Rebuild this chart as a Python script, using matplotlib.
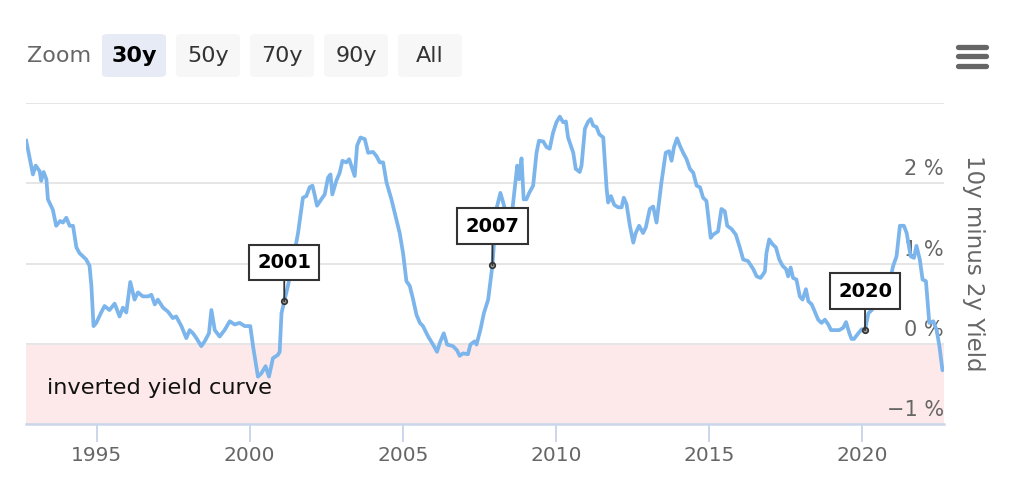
import matplotlib.pyplot as plt
import numpy as np
from matplotlib.patches import FancyBboxPatch
from matplotlib.lines import Line2D
from matplotlib import transforms

# 10y minus 2y spread (%)
years = [
    1992.70, 1992.92, 1993.01, 1993.14, 1993.19, 1993.27, 1993.36, 1993.41, 1993.57, 1993.68,
    1993.81, 1993.90, 1994.01, 1994.12, 1994.23, 1994.34, 1994.44, 1994.55, 1994.66, 1994.77,
    1994.83, 1994.90, 1994.99, 1995.15, 1995.26, 1995.42, 1995.59, 1995.75, 1995.86, 1995.97,
    1996.10, 1996.24, 1996.35, 1996.51, 1996.68, 1996.79, 1996.90, 1997.00, 1997.17, 1997.33,
    1997.49, 1997.60, 1997.77, 1997.93, 1998.04, 1998.15, 1998.26, 1998.42, 1998.53, 1998.67,
    1998.75, 1998.86, 1999.02, 1999.18, 1999.35, 1999.51, 1999.67, 1999.84, 2000.02, 2000.11,
    2000.27, 2000.38, 2000.52, 2000.63, 2000.76, 2000.92, 2000.98, 2001.04, 2001.13, 2001.25,
    2001.42, 2001.58, 2001.74, 2001.85, 2001.96, 2002.05, 2002.12, 2002.20, 2002.34, 2002.45,
    2002.56, 2002.64, 2002.70, 2002.83, 2002.94, 2003.03, 2003.16, 2003.25, 2003.32, 2003.43,
    2003.51, 2003.62, 2003.76, 2003.87, 2004.03, 2004.14, 2004.25, 2004.36, 2004.47, 2004.63,
    2004.79, 2004.90, 2005.01, 2005.12, 2005.23, 2005.34, 2005.45, 2005.56, 2005.66, 2005.83,
    2005.99, 2006.12, 2006.21, 2006.34, 2006.45, 2006.64, 2006.77, 2006.86, 2006.97, 2007.13,
    2007.21, 2007.35, 2007.41, 2007.54, 2007.65, 2007.79, 2007.93, 2008.06, 2008.19, 2008.28,
    2008.43, 2008.59, 2008.74, 2008.80, 2008.88, 2008.95, 2009.04, 2009.13, 2009.26, 2009.37,
    2009.45, 2009.59, 2009.70, 2009.80, 2009.91, 2010.02, 2010.13, 2010.24, 2010.33, 2010.40,
    2010.57, 2010.65, 2010.78, 2010.84, 2010.95, 2011.06, 2011.14, 2011.22, 2011.33, 2011.42,
    2011.55, 2011.66, 2011.71, 2011.80, 2011.91, 2012.04, 2012.15, 2012.22, 2012.31, 2012.42,
    2012.53, 2012.61, 2012.72, 2012.85, 2012.94, 2013.07, 2013.18, 2013.29, 2013.45, 2013.59,
    2013.70, 2013.78, 2013.86, 2013.96, 2014.05, 2014.16, 2014.27, 2014.38, 2014.49, 2014.60,
    2014.71, 2014.81, 2014.92, 2015.06, 2015.14, 2015.30, 2015.41, 2015.52, 2015.60, 2015.74,
    2015.88, 2016.01, 2016.12, 2016.28, 2016.45, 2016.56, 2016.69, 2016.83, 2016.88, 2016.97,
    2017.08, 2017.19, 2017.30, 2017.41, 2017.52, 2017.59, 2017.67, 2017.75, 2017.86, 2017.97,
    2018.06, 2018.17, 2018.25, 2018.36, 2018.46, 2018.57, 2018.68, 2018.79, 2018.90, 2018.99,
    2019.12, 2019.26, 2019.39, 2019.48, 2019.59, 2019.66, 2019.74, 2019.88, 2019.99, 2020.10,
    2020.21, 2020.32, 2020.52, 2020.75, 2020.92, 2021.02, 2021.13, 2021.24, 2021.37, 2021.46,
    2021.59, 2021.70, 2021.78, 2021.89, 2021.98, 2022.09, 2022.20, 2022.33, 2022.44, 2022.53,
    2022.63, 2022.71,
]
spread = [
    2.53, 2.11, 2.22, 2.15, 2.03, 2.14, 2.05, 1.80, 1.67, 1.47,
    1.53, 1.51, 1.57, 1.47, 1.47, 1.20, 1.13, 1.09, 1.05, 0.97,
    0.72, 0.22, 0.26, 0.39, 0.47, 0.42, 0.50, 0.34, 0.45, 0.39,
    0.77, 0.55, 0.64, 0.59, 0.59, 0.61, 0.49, 0.55, 0.45, 0.40,
    0.32, 0.34, 0.22, 0.07, 0.17, 0.13, 0.07, -0.03, 0.03, 0.13,
    0.42, 0.17, 0.09, 0.17, 0.28, 0.24, 0.26, 0.22, 0.22, -0.03,
    -0.41, -0.37, -0.28, -0.41, -0.18, -0.14, -0.10, 0.38, 0.53, 0.72,
    1.05, 1.38, 1.82, 1.84, 1.95, 1.97, 1.86, 1.72, 1.80, 1.86,
    2.07, 2.11, 1.86, 2.03, 2.13, 2.28, 2.26, 2.30, 2.22, 2.09,
    2.47, 2.57, 2.55, 2.38, 2.39, 2.34, 2.26, 2.26, 2.01, 1.80,
    1.55, 1.38, 1.13, 0.78, 0.72, 0.55, 0.36, 0.26, 0.22, 0.09,
    -0.01, -0.10, 0.01, 0.13, -0.01, -0.03, -0.08, -0.15, -0.12, -0.13,
    -0.01, 0.03, -0.01, 0.18, 0.38, 0.55, 0.98, 1.68, 1.88, 1.76,
    1.55, 1.70, 2.22, 2.05, 2.31, 1.80, 1.80, 1.88, 1.97, 2.38,
    2.53, 2.52, 2.45, 2.43, 2.63, 2.76, 2.83, 2.76, 2.77, 2.57,
    2.38, 2.18, 2.14, 2.22, 2.68, 2.77, 2.80, 2.72, 2.70, 2.61,
    2.57, 1.93, 1.76, 1.84, 1.73, 1.70, 1.70, 1.82, 1.74, 1.47,
    1.26, 1.38, 1.47, 1.38, 1.45, 1.68, 1.71, 1.51, 2.01, 2.38,
    2.40, 2.28, 2.45, 2.56, 2.47, 2.38, 2.30, 2.18, 2.13, 1.97,
    1.95, 1.82, 1.78, 1.32, 1.36, 1.40, 1.68, 1.65, 1.47, 1.43,
    1.36, 1.20, 1.05, 1.03, 0.93, 0.84, 0.82, 0.90, 1.13, 1.30,
    1.24, 1.20, 1.05, 0.97, 0.93, 0.84, 0.95, 0.82, 0.80, 0.59,
    0.55, 0.68, 0.53, 0.49, 0.40, 0.30, 0.26, 0.30, 0.24, 0.17,
    0.17, 0.17, 0.20, 0.27, 0.13, 0.06, 0.06, 0.13, 0.18, 0.17,
    0.38, 0.42, 0.55, 0.60, 0.80, 0.97, 1.09, 1.47, 1.47, 1.38,
    1.09, 1.07, 1.22, 1.05, 0.80, 0.78, 0.26, 0.28, 0.17, -0.03,
    -0.33, -0.30,
]

recession_labels = ["2001", "2007", "2020"]
recession_years = [2001.13, 2007.93, 2020.10]

x_ticks = [1995, 2000, 2005, 2010, 2015, 2020]
y_ticks = [-1, 0, 1, 2, 3]
y_labels = ["\u22121 %", "0 %", "1 %", "2 %"]

zoom_buttons = ["30y", "50y", "70y", "90y", "All"]

W, H = 1018, 484
fig = plt.figure(figsize=(W / 100, H / 100), dpi=100)
ax = fig.add_axes([26 / W, 60 / H, 918 / W, 321 / H])

# inverted yield curve band
ax.axhspan(-1, 0, color="#fde9e9", zorder=0, lw=0)
ax.text(1993.38, -0.55, "inverted yield curve", fontsize=16.2, color="#111111",
        va="center", ha="left", zorder=1)

ax.plot(years, spread, color="#7cb5ec", lw=2.7, zorder=3, solid_joinstyle="round")

ax.set_xlim(1992.694, 2022.68)
ax.set_ylim(-1, 3)

ax.set_yticks(y_ticks)
ax.grid(axis="y", color="#e6e6e6", lw=1.4, zorder=1)
ax.tick_params(axis="y", length=0, labelleft=False, labelright=False)
ax.set_axisbelow(True)

ax.set_xticks(x_ticks)
ax.set_xticklabels([str(t) for t in x_ticks])
ax.tick_params(axis="x", direction="out", length=13, width=1.4, color="#ccd6eb",
               labelsize=14.5, labelcolor="#666666", pad=3)

for s in ["top", "left", "right"]:
    ax.spines[s].set_visible(False)
ax.spines["bottom"].set_color("#ccd6eb")
ax.spines["bottom"].set_linewidth(1.8)

# y labels sit inside the plot, just above their gridline
lab_tr = transforms.blended_transform_factory(ax.transAxes, ax.transData)
lab_tr = lab_tr + transforms.ScaledTranslation(0, 4 / 100, fig.dpi_scale_trans)
for v, lab in zip(y_ticks[:-1], y_labels):
    ax.text(1.0, v, lab, transform=lab_tr, ha="right", va="bottom",
            fontsize=15, color="#666666", zorder=2)

ax.text(1.0316, 0.5, "10y minus 2y Yield", transform=ax.transAxes, rotation=270,
        ha="center", va="center", fontsize=16.5, color="#666666")

# recession annotations
for lab, yr in zip(recession_labels, recession_years):
    yv = np.interp(yr, years, spread)
    ax.plot([yr], [yv], marker="o", ms=4, mfc="#999999", mec="#333333", mew=1.2, zorder=6)
    ax.annotate(lab, xy=(yr, yv), xytext=(0, 39), textcoords="offset pixels",
                ha="center", va="center", fontsize=14, fontweight="bold", color="black",
                bbox=dict(boxstyle="square,pad=0.42", fc="white", ec="#333333", lw=1.5),
                arrowprops=dict(arrowstyle="-", color="#333333", lw=1.3,
                                shrinkA=0, shrinkB=0),
                zorder=7)

# range selector
fig.text(27 / W, 1 - 56 / H, "Zoom", ha="left", va="center", fontsize=16, color="#666666")
for i, lab in enumerate(zoom_buttons):
    x0 = 102 + i * 74
    active = i == 0
    box = FancyBboxPatch((x0 / W, 1 - 77 / H), 64 / W, 43 / H,
                         boxstyle="round,pad=0,rounding_size=0.006",
                         transform=fig.transFigure, fc="#e6ebf5" if active else "#f7f7f7",
                         ec="none")
    fig.patches.append(box)
    fig.text((x0 + 32) / W, 1 - 56 / H, lab, ha="center", va="center", fontsize=16,
             color="black" if active else "#333333",
             fontweight="bold" if active else "normal")

# export menu icon
for yy in [47, 56, 66]:
    fig.lines.append(Line2D([957.5 / W, 985.5 / W], [1 - yy / H, 1 - yy / H],
                            transform=fig.transFigure, color="#666666", lw=3.8,
                            solid_capstyle="round"))

fig.savefig("out.png", dpi=100)
plt.close(fig)
